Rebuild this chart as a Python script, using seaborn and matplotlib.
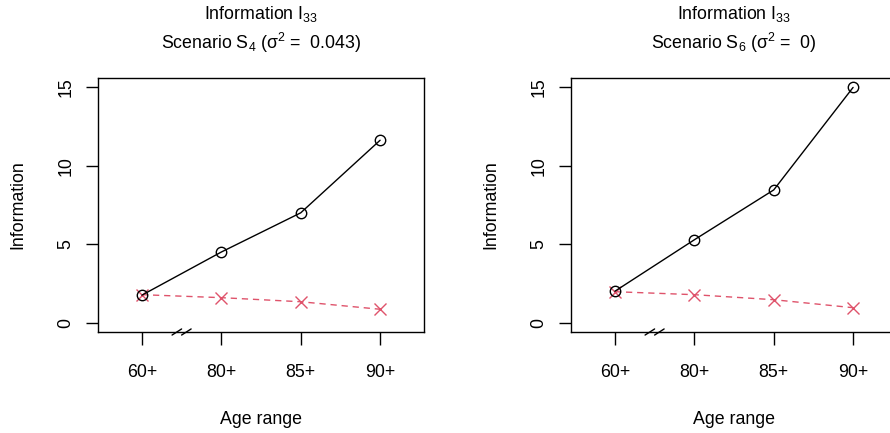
import numpy as np
import matplotlib
matplotlib.use("Agg")
import matplotlib.pyplot as plt
import matplotlib.transforms as mtransforms
import seaborn as sns

# ---- data ----
age_labels = ["60+", "80+", "85+", "90+"]

s4_black = [1.75, 4.5, 7.0, 11.63]
s4_red = [1.78, 1.59, 1.33, 0.85]

s6_black = [2.0, 5.28, 8.46, 15.0]
s6_red = [1.97, 1.78, 1.46, 0.95]

titles_top = ["Information I$_{33}$", "Information I$_{33}$"]
titles_sub = ["Scenario S$_4$ (σ$^2$ =  0.043)", "Scenario S$_6$ (σ$^2$ =  0)"]

y_ticks = [0, 5, 10, 15]

# ---- style ----
sns.set_style("white")
plt.rcParams['font.family'] = ['Liberation Sans', 'DejaVu Sans']
plt.rcParams['mathtext.fontset'] = 'custom'
plt.rcParams['mathtext.rm'] = 'Liberation Sans'
plt.rcParams['mathtext.it'] = 'Liberation Sans:italic'
plt.rcParams['mathtext.bf'] = 'Liberation Sans:bold'
plt.rcParams['text.color'] = 'black'
plt.rcParams['axes.labelcolor'] = 'black'
plt.rcParams['xtick.color'] = 'black'
plt.rcParams['ytick.color'] = 'black'
plt.rcParams['axes.edgecolor'] = 'black'

RED = '#DF536B'
FS = 12.8

fig = plt.figure(figsize=(8.9, 4.33), dpi=100)

W, H = 890, 433
panels = [
    (98, s4_black, s4_red, titles_top[0], titles_sub[0]),
    (571, s6_black, s6_red, titles_top[1], titles_sub[1]),
]

x = np.arange(len(age_labels))

for left_px, black_vals, red_vals, t1, t2 in panels:
    ax = fig.add_axes([left_px / W, (H - 332) / H, 326 / W, 254 / H])

    sns.lineplot(x=x, y=red_vals, ax=ax, color=RED, lw=1.0, sort=False,
                 linestyle=(0, (4.5, 3.5)), marker='x', markersize=8,
                 markeredgewidth=1.0, markeredgecolor=RED, errorbar=None)
    sns.lineplot(x=x, y=black_vals, ax=ax, color='black', lw=1.0, sort=False,
                 marker='o', markersize=7.5, markerfacecolor='none',
                 markeredgecolor='black', markeredgewidth=1.0, errorbar=None)

    ax.set_xlim(-0.553, len(age_labels) - 1 + 0.553)
    ax.set_ylim(-0.6, 15.6)

    ax.set_xticks(x)
    ax.set_xticklabels(age_labels, fontsize=FS)
    ax.set_yticks(y_ticks)
    ax.set_yticklabels([str(v) for v in y_ticks], fontsize=FS, rotation=90, va='center')

    ax.tick_params(axis='both', which='both', direction='out', length=9,
                   width=1.0, color='black', labelcolor='black', bottom=True, left=True)
    ax.tick_params(axis='x', pad=14)
    ax.tick_params(axis='y', pad=8)

    for sp in ax.spines.values():
        sp.set_visible(True)
        sp.set_color('black')
        sp.set_linewidth(1.0)

    ax.set_xlabel("Age range", fontsize=FS, labelpad=22)
    ax.set_ylabel("Information", fontsize=FS, labelpad=22)
    ax.grid(False)

    # axis break marks between the first and second age group
    trans = mtransforms.blended_transform_factory(ax.transData, ax.transAxes)
    brk = (x[0] + x[1]) / 2
    for off in (-0.06, 0.06):
        ax.plot([brk + off - 0.06, brk + off + 0.06], [-0.012, 0.012],
                transform=trans, color='black', lw=1.0, clip_on=False)

    ax.text(0.5, 1.252, t1, transform=ax.transAxes, ha='center', va='center', fontsize=FS)
    ax.text(0.5, 1.138, t2, transform=ax.transAxes, ha='center', va='center', fontsize=FS)

plt.savefig("out.png", dpi=100)
